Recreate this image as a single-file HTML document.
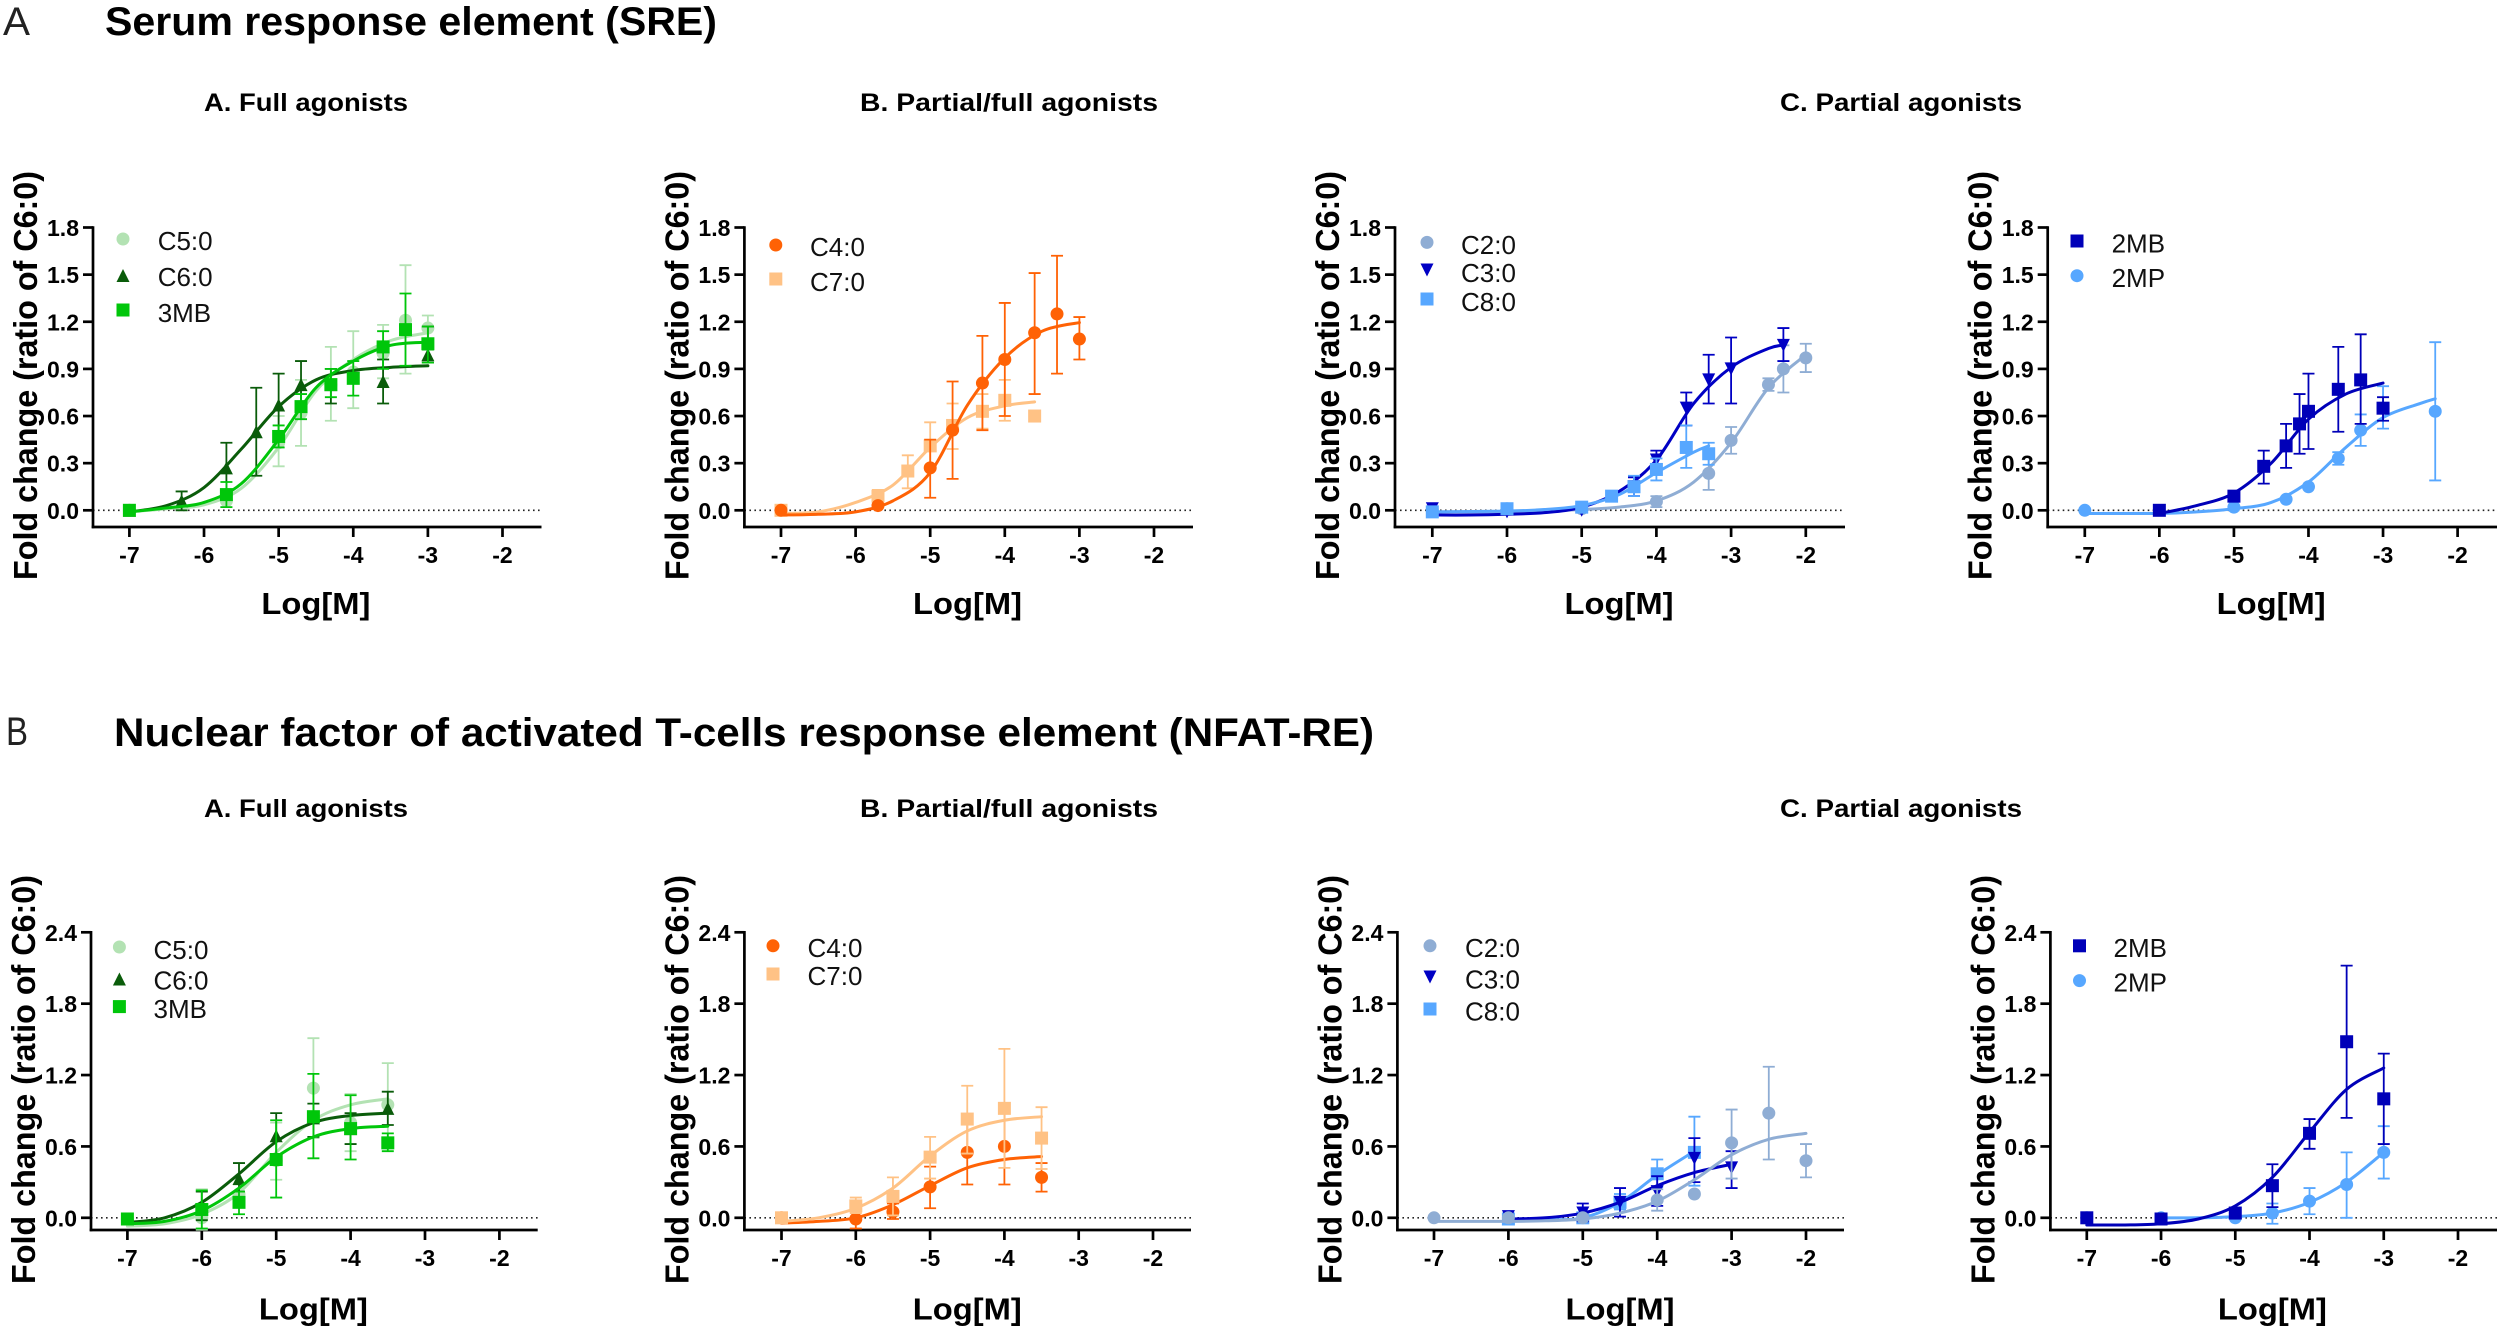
<!DOCTYPE html>
<html lang="en">
<head>
<meta charset="utf-8">
<title>Serum response element and NFAT-RE dose-response curves</title>
<style>
html,body{margin:0;padding:0;background:#fff;}
svg{display:block;}
text{font-family:"Liberation Sans",Arial,sans-serif;fill:#000;}
.main{font-size:40px;font-weight:700;}
.letter{font-size:40px;font-weight:400;fill:#222;}
.sub{font-size:25px;font-weight:700;}
</style>
</head>
<body>
<svg id="figure" xmlns="http://www.w3.org/2000/svg" width="2500" height="1329" viewBox="0 0 2500 1329">
  <rect width="2500" height="1329" fill="#fff"/>
  <text class="letter" x="3" y="35" textLength="27" lengthAdjust="spacingAndGlyphs">A</text>
  <text class="main" x="105" y="35" textLength="612" lengthAdjust="spacingAndGlyphs">Serum response element (SRE)</text>
  <text class="sub" x="204" y="111" textLength="204" lengthAdjust="spacingAndGlyphs">A. Full agonists</text>
  <text class="sub" x="860" y="111" textLength="298" lengthAdjust="spacingAndGlyphs">B. Partial/full agonists</text>
  <text class="sub" x="1780" y="111" textLength="242" lengthAdjust="spacingAndGlyphs">C. Partial agonists</text>
  <text class="letter" x="6" y="745" textLength="22" lengthAdjust="spacingAndGlyphs">B</text>
  <text class="main" x="114" y="746" textLength="1260" lengthAdjust="spacingAndGlyphs">Nuclear factor of activated T-cells response element (NFAT-RE)</text>
  <text class="sub" x="204" y="817" textLength="204" lengthAdjust="spacingAndGlyphs">A. Full agonists</text>
  <text class="sub" x="860" y="817" textLength="298" lengthAdjust="spacingAndGlyphs">B. Partial/full agonists</text>
  <text class="sub" x="1780" y="817" textLength="242" lengthAdjust="spacingAndGlyphs">C. Partial agonists</text>
</svg>
<script>
// ---- tick labels ----
const xTickValues = [-7,-6,-5,-4,-3,-2];
const sreYTicks = [0,0.3,0.6,0.9,1.2,1.5,1.8];
const nfatYTicks = [0,0.6,1.2,1.8,2.4];

// ---- SRE / full agonists ----
const sreC5X = [-7,-5.7,-5,-4.7,-4.3,-4,-3.6,-3.3,-3];
const sreC5Mean = [0,0.06,0.43,0.62,0.80,0.88,1.00,1.21,1.16];
const sreC5Low = [null,0.02,0.28,0.41,0.57,0.65,0.84,0.87,1.02];
const sreC5High = [null,0.11,0.60,0.83,1.04,1.14,1.18,1.56,1.24];
const sreC5CurveX = [-7,-6.5,-6,-5.5,-5,-4.5,-4,-3.5,-3];
const sreC5CurveY = [-0.01,0.01,0.035,0.14,0.40,0.76,0.96,1.08,1.13];

const sreC6X = [-7,-6.3,-5.7,-5.3,-5,-4.7,-4.3,-3.6,-3];
const sreC6Mean = [0,0.06,0.27,0.50,0.67,0.80,0.80,0.82,0.99];
const sreC6Low = [null,0.00,0.11,0.22,0.47,0.65,0.68,0.68,0.94];
const sreC6High = [null,0.12,0.43,0.78,0.87,0.95,0.90,0.96,1.17];
const sreC6CurveX = [-7,-6.5,-6,-5.5,-5,-4.5,-4,-3.5,-3];
const sreC6CurveY = [-0.01,0.03,0.145,0.39,0.66,0.83,0.89,0.91,0.92];

const sre3MBX = [-7,-5.7,-5,-4.7,-4.3,-4,-3.6,-3.3,-3];
const sre3MBMean = [0,0.10,0.47,0.66,0.80,0.84,1.04,1.15,1.06];
const sre3MBLow = [null,0.02,0.40,0.58,0.72,0.73,0.90,0.92,0.94];
const sre3MBHigh = [null,0.18,0.54,0.74,0.90,0.95,1.14,1.38,1.17];
const sre3MBCurveX = [-7,-6.5,-6,-5.5,-5,-4.5,-4,-3.5,-3];
const sre3MBCurveY = [-0.01,0.015,0.05,0.17,0.45,0.78,0.95,1.05,1.07];

// ---- SRE / partial-full agonists ----
const sreC4X = [-7,-5.7,-5,-4.7,-4.3,-4,-3.6,-3.3,-3];
const sreC4Mean = [0,0.03,0.27,0.51,0.81,0.96,1.13,1.25,1.09];
const sreC4Low = [null,null,0.08,0.20,0.51,0.60,0.74,0.87,0.96];
const sreC4High = [null,null,0.45,0.82,1.11,1.32,1.51,1.62,1.23];
const sreC4CurveX = [-7,-6.5,-6,-5.5,-5,-4.5,-4,-3.5,-3];
const sreC4CurveY = [-0.03,-0.025,-0.01,0.06,0.24,0.67,0.97,1.14,1.195];

const sreC7X = [-7,-5.7,-5.3,-5,-4.7,-4.3,-4,-3.6];
const sreC7Mean = [0,0.09,0.25,0.41,0.54,0.63,0.70,0.60];
const sreC7Low = [null,0.04,0.14,0.27,0.39,0.52,0.57,null];
const sreC7High = [null,0.13,0.35,0.56,0.68,0.74,0.83,null];
const sreC7CurveX = [-7,-6.5,-6,-5.5,-5,-4.5,-4,-3.6];
const sreC7CurveY = [-0.02,-0.01,0.05,0.16,0.40,0.59,0.665,0.69];

// ---- SRE / partial agonists, C-series ----
const sreC2X = [-7,-6,-5,-4,-3.3,-3,-2.5,-2.3,-2];
const sreC2Mean = [0,0.01,0.01,0.055,0.235,0.445,0.80,0.90,0.97];
const sreC2Low = [null,null,null,0.02,0.13,0.36,0.76,0.75,0.88];
const sreC2High = [null,null,null,0.09,0.33,0.53,0.84,1.05,1.06];
const sreC2CurveX = [-7,-6,-5.5,-5,-4.5,-4,-3.5,-3,-2.5,-2];
const sreC2CurveY = [-0.01,-0.01,-0.005,0.005,0.02,0.06,0.18,0.43,0.78,0.99];

const sreC3X = [-7,-6,-5,-4.3,-4,-3.6,-3.3,-3,-2.3];
const sreC3Mean = [0.01,-0.01,0,0.15,0.32,0.65,0.83,0.90,1.05];
const sreC3Low = [null,null,null,0.09,0.25,0.54,0.68,0.68,0.95];
const sreC3High = [null,null,null,0.21,0.38,0.75,0.99,1.10,1.16];
const sreC3CurveX = [-7,-6.5,-6,-5.5,-5,-4.5,-4,-3.5,-3,-2.5,-2.3];
const sreC3CurveY = [-0.03,-0.03,-0.025,-0.015,0.02,0.12,0.32,0.68,0.91,1.03,1.05];

const sreC8X = [-7,-6,-5,-4.6,-4.3,-4,-3.6,-3.3];
const sreC8Mean = [-0.01,0.01,0.02,0.09,0.15,0.26,0.40,0.36];
const sreC8Low = [null,null,null,0.06,0.09,0.19,0.27,0.29];
const sreC8High = [null,null,null,0.12,0.22,0.33,0.54,0.43];
const sreC8CurveX = [-7,-6,-5.5,-5,-4.5,-4,-3.5,-3.3];
const sreC8CurveY = [-0.01,-0.005,0.005,0.03,0.10,0.24,0.37,0.41];

// ---- SRE / partial agonists, methyl-branched ----
const sre2MBX = [-6,-5,-4.6,-4.3,-4.12,-4,-3.6,-3.3,-3];
const sre2MBMean = [0,0.09,0.28,0.41,0.55,0.63,0.77,0.83,0.65];
const sre2MBLow = [null,null,0.17,0.27,0.36,0.39,0.50,0.55,0.57];
const sre2MBHigh = [null,null,0.38,0.55,0.74,0.87,1.04,1.12,0.72];
const sre2MBCurveX = [-6,-5.5,-5,-4.5,-4,-3.5,-3];
const sre2MBCurveY = [-0.02,0.03,0.11,0.30,0.58,0.74,0.81];

const sre2MPX = [-7,-5,-4.3,-4,-3.6,-3.3,-3,-2.3];
const sre2MPMean = [0,0.02,0.07,0.15,0.33,0.51,0.65,0.63];
const sre2MPLow = [null,null,null,null,0.29,0.41,0.52,0.19];
const sre2MPHigh = [null,null,null,null,0.37,0.61,0.79,1.07];
const sre2MPCurveX = [-7,-6,-5.5,-5,-4.5,-4,-3.5,-3,-2.5,-2.3];
const sre2MPCurveY = [-0.02,-0.02,-0.01,0.01,0.05,0.18,0.40,0.59,0.68,0.71];

// ---- NFAT / full agonists ----
const nfatC5X = [-7,-6,-5.5,-5,-4.5,-4,-3.5];
const nfatC5Mean = [-0.01,0,0.20,0.48,1.09,0.80,0.95];
const nfatC5Low = [null,-0.10,0.12,0.32,0.67,0.56,0.60];
const nfatC5High = [null,0.24,0.28,0.80,1.51,1.04,1.30];
const nfatC5CurveX = [-7,-6.5,-6,-5.5,-5,-4.5,-4,-3.5];
const nfatC5CurveY = [-0.07,-0.05,0.03,0.21,0.55,0.82,0.95,1.00];

const nfatC6X = [-7,-6,-5.5,-5,-4.5,-4,-3.5];
const nfatC6Mean = [-0.01,0.10,0.33,0.69,0.84,0.75,0.92];
const nfatC6Low = [null,-0.02,0.22,0.48,0.68,0.62,0.78];
const nfatC6High = [null,0.22,0.46,0.88,0.96,0.88,1.06];
const nfatC6CurveX = [-7,-6.5,-6,-5.5,-5,-4.5,-4,-3.5];
const nfatC6CurveY = [-0.04,0.00,0.13,0.37,0.64,0.80,0.86,0.88];

const nfat3MBX = [-7,-6,-5.5,-5,-4.5,-4,-3.5];
const nfat3MBMean = [-0.01,0.07,0.13,0.49,0.85,0.75,0.63];
const nfat3MBLow = [null,-0.09,0.03,0.17,0.50,0.49,0.56];
const nfat3MBHigh = [null,0.23,0.22,0.82,1.21,1.03,0.71];
const nfat3MBCurveX = [-7,-6.5,-6,-5.5,-5,-4.5,-4,-3.5];
const nfat3MBCurveY = [-0.05,-0.03,0.06,0.25,0.51,0.68,0.75,0.77];

// ---- NFAT / partial-full agonists ----
const nfatC4X = [-7,-6,-5.5,-5,-4.5,-4,-3.5];
const nfatC4Mean = [0,-0.01,0.05,0.26,0.55,0.60,0.34];
const nfatC4Low = [null,-0.09,-0.01,0.08,0.28,0.28,0.22];
const nfatC4High = [null,0.06,0.12,0.43,0.82,0.92,0.46];
const nfatC4CurveX = [-7,-6.5,-6,-5.5,-5,-4.5,-4,-3.5];
const nfatC4CurveY = [-0.045,-0.03,0.00,0.11,0.27,0.42,0.49,0.515];

const nfatC7X = [-7,-6,-5.5,-5,-4.5,-4,-3.5];
const nfatC7Mean = [0,0.10,0.18,0.51,0.83,0.92,0.67];
const nfatC7Low = [null,0.04,0.02,0.33,0.54,0.42,0.41];
const nfatC7High = [null,0.17,0.34,0.68,1.11,1.42,0.93];
const nfatC7CurveX = [-7,-6.5,-6,-5.5,-5,-4.5,-4,-3.5];
const nfatC7CurveY = [-0.03,0.00,0.08,0.25,0.52,0.73,0.82,0.85];

// ---- NFAT / partial agonists, C-series ----
const nfatC2X = [-7,-6,-5,-4,-3.5,-3,-2.5,-2];
const nfatC2Mean = [0,0,0,0.15,0.20,0.63,0.88,0.48];
const nfatC2Low = [null,null,null,0.06,null,0.33,0.49,0.34];
const nfatC2High = [null,null,null,0.24,null,0.91,1.27,0.62];
const nfatC2CurveX = [-7,-6.5,-6,-5.5,-5,-4.5,-4,-3.5,-3,-2.5,-2];
const nfatC2CurveY = [-0.03,-0.03,-0.03,-0.025,-0.01,0.04,0.14,0.32,0.53,0.66,0.71];

const nfatC3X = [-6,-5,-4.5,-4,-3.5,-3];
const nfatC3Mean = [0.01,0.04,0.13,0.22,0.50,0.42];
const nfatC3Low = [null,-0.03,0.01,0.10,0.30,0.25];
const nfatC3High = [null,0.12,0.25,0.35,0.67,0.56];
const nfatC3CurveX = [-6,-5.5,-5,-4.5,-4,-3.5,-3];
const nfatC3CurveY = [-0.01,0.00,0.04,0.13,0.27,0.38,0.45];

const nfatC8X = [-6,-5,-4.5,-4,-3.5];
const nfatC8Mean = [-0.01,0,0.13,0.37,0.55];
const nfatC8Low = [null,-0.03,0.07,0.26,0.27];
const nfatC8High = [null,0.03,0.20,0.49,0.85];
const nfatC8CurveX = [-6,-5.5,-5,-4.5,-4,-3.5];
const nfatC8CurveY = [-0.02,-0.015,0.00,0.13,0.36,0.56];

// ---- NFAT / partial agonists, methyl-branched ----
const nfat2MBX = [-7,-6,-5,-4.5,-4,-3.5,-3];
const nfat2MBMean = [0,-0.01,0.04,0.27,0.71,1.48,1.00];
const nfat2MBLow = [null,null,null,0.09,0.58,0.84,0.62];
const nfat2MBHigh = [null,null,null,0.45,0.83,2.12,1.38];
const nfat2MBCurveX = [-7,-6.5,-6,-5.5,-5,-4.5,-4,-3.5,-3];
const nfat2MBCurveY = [-0.06,-0.06,-0.05,-0.01,0.10,0.34,0.72,1.08,1.26];

const nfat2MPX = [-7,-6,-5,-4.5,-4,-3.5,-3];
const nfat2MPMean = [0,0,0,0.04,0.14,0.28,0.55];
const nfat2MPLow = [null,null,null,-0.05,0.03,0,0.33];
const nfat2MPHigh = [null,null,null,0.12,0.25,0.55,0.77];
const nfat2MPCurveX = [-6,-5.5,-5,-4.5,-4,-3.5,-3];
const nfat2MPCurveY = [0,0,0.01,0.04,0.13,0.30,0.55];

// ---- rendering ----
const NS = 'http://www.w3.org/2000/svg';
const svg = document.getElementById('figure');

function mk(tag, attrs, parent) {
  const el = document.createElementNS(NS, tag);
  for (const k in attrs) el.setAttribute(k, attrs[k]);
  parent.appendChild(el);
  return el;
}

function drawMarker(shape, color, cx, cy, size, parent) {
  const h = size / 2;
  let el;
  if (shape === 'circle') {
    el = mk('circle', {cx: cx, cy: cy, r: h, fill: color}, parent);
  } else if (shape === 'square') {
    el = mk('rect', {x: cx - h, y: cy - h, width: size, height: size, fill: color}, parent);
  } else if (shape === 'up') {
    el = mk('polygon', {points: (cx - h) + ',' + (cy + h) + ' ' + (cx + h) + ',' + (cy + h) + ' ' + cx + ',' + (cy - h), fill: color}, parent);
  } else {
    el = mk('polygon', {points: (cx - h) + ',' + (cy - h) + ' ' + (cx + h) + ',' + (cy - h) + ' ' + cx + ',' + (cy + h), fill: color}, parent);
  }
  return el;
}

function smoothPath(pts) {
  let d = 'M' + pts[0][0].toFixed(2) + ' ' + pts[0][1].toFixed(2);
  for (let i = 0; i < pts.length - 1; i++) {
    const p0 = pts[Math.max(i - 1, 0)];
    const p1 = pts[i];
    const p2 = pts[i + 1];
    const p3 = pts[Math.min(i + 2, pts.length - 1)];
    const c1x = p1[0] + (p2[0] - p0[0]) / 6;
    const c1y = p1[1] + (p2[1] - p0[1]) / 6;
    const c2x = p2[0] - (p3[0] - p1[0]) / 6;
    const c2y = p2[1] - (p3[1] - p1[1]) / 6;
    d += 'C' + c1x.toFixed(2) + ' ' + c1y.toFixed(2) + ' ' + c2x.toFixed(2) + ' ' + c2y.toFixed(2) + ' ' + p2[0].toFixed(2) + ' ' + p2[1].toFixed(2);
  }
  return d;
}

function slug(s) {
  return s.toLowerCase().replace(/[^a-z0-9]+/g, '');
}

function drawPanel(p) {
  const g = mk('g', {}, svg);
  
  

  const xScale = function (v) { return p.x7 + (v + 7) * (p.x2 - p.x7) / 5; };
  const yMax = p.ticks[p.ticks.length - 1];
  const yScale = function (v) { return p.y0 - v * (p.y0 - p.yTop) / yMax; };

  // reference line at zero
  const zero = mk('line', {x1: p.ax, x2: p.right, y1: yScale(0), y2: yScale(0), stroke: '#222', 'stroke-width': 1.6, 'stroke-dasharray': '1.6 3.4'}, g);
  
  

  // axes
  const yAxis = mk('line', {x1: p.ax, x2: p.ax, y1: p.yTop - 1.3, y2: p.axisY + 1.3, stroke: '#000', 'stroke-width': 2.7}, g);
  
  
  const xAxis = mk('line', {x1: p.ax - 1.3, x2: p.right, y1: p.axisY, y2: p.axisY, stroke: '#000', 'stroke-width': 2.7}, g);
  
  

  xTickValues.forEach(function (v) {
    const tick = mk('line', {x1: xScale(v), x2: xScale(v), y1: p.axisY, y2: p.axisY + 10, stroke: '#000', 'stroke-width': 2.7}, g);
    
    
    const lab = mk('text', {x: xScale(v), y: p.axisY + 36, 'text-anchor': 'middle', 'font-size': 23, 'font-weight': 700}, g);
    lab.textContent = String(v);
    
    
  });
  p.ticks.forEach(function (v) {
    const tick = mk('line', {x1: p.ax - 10, x2: p.ax, y1: yScale(v), y2: yScale(v), stroke: '#000', 'stroke-width': 2.7}, g);
    
    
    const lab = mk('text', {x: p.ax - 14, y: yScale(v) + 8.5, 'text-anchor': 'end', 'font-size': 23, 'font-weight': 700}, g);
    lab.textContent = v.toFixed(1);
    
    
  });

  // axis titles
  const yT = mk('text', {x: p.ax - 56, y: p.titleBottom, transform: 'rotate(-90 ' + (p.ax - 56) + ' ' + p.titleBottom + ')', 'font-size': 33, 'font-weight': 700, textLength: 409, lengthAdjust: 'spacingAndGlyphs'}, g);
  yT.textContent = 'Fold change (ratio of C6:0)';
  
  
  const xT = mk('text', {x: (p.x7 + p.x2) / 2, y: p.xTitleY, 'text-anchor': 'middle', 'font-size': 31, 'font-weight': 700, textLength: 109, lengthAdjust: 'spacingAndGlyphs'}, g);
  xT.textContent = 'Log[M]';
  
  

  // series
  p.series.forEach(function (s) {
    const sg = mk('g', {}, g);
    
    

    const pts = s.curveX.map(function (v, i) { return [xScale(v), yScale(s.curveY[i])]; });
    const curve = mk('path', {d: smoothPath(pts), fill: 'none', stroke: s.color, 'stroke-width': 3, 'stroke-linecap': 'round'}, sg);
    
    

    s.x.forEach(function (v, i) {
      if (s.low[i] === null || s.high[i] === null) return;
      const cx = xScale(v);
      const yl = yScale(s.low[i]);
      const yh = yScale(s.high[i]);
      const d = 'M' + cx + ' ' + yl + 'V' + yh + 'M' + (cx - 6) + ' ' + yl + 'H' + (cx + 6) + 'M' + (cx - 6) + ' ' + yh + 'H' + (cx + 6);
      const err = mk('path', {d: d, fill: 'none', stroke: s.color, 'stroke-width': 1.8}, sg);
      
      
    });

    s.x.forEach(function (v, i) {
      const m = drawMarker(s.marker, s.color, xScale(v), yScale(s.mean[i]), 13, sg);
      
      
    });
  });

  // legend
  const lg = mk('g', {}, g);
  
  
  p.legendOrder.forEach(function (s, i) {
    const m = drawMarker(s.marker, s.color, p.legendX, p.legendMarkerY[i], 13, lg);
    
    
    const t = mk('text', {x: p.legendTextX, y: p.legendTextY[i], 'font-size': 26, style: 'fill:#111'}, lg);
    t.textContent = s.name;
    
    
  });
}

// series descriptors
const GREEN_LIGHT = '#b3e2b3', GREEN_DARK = '#0a5c0a', GREEN = '#00c60a';
const ORANGE = '#ff6205', ORANGE_LIGHT = '#ffc285';
const SLATE = '#8fadd4', NAVY = '#0000c4', SKY = '#57a7ff', NAVY2 = '#0000b8';

function ser(name, color, marker, x, mean, low, high, curveX, curveY) {
  return {name: name, color: color, marker: marker, x: x, mean: mean, low: low, high: high, curveX: curveX, curveY: curveY};
}

const sC5 = ser('C5:0', GREEN_LIGHT, 'circle', sreC5X, sreC5Mean, sreC5Low, sreC5High, sreC5CurveX, sreC5CurveY);
const sC6 = ser('C6:0', GREEN_DARK, 'up', sreC6X, sreC6Mean, sreC6Low, sreC6High, sreC6CurveX, sreC6CurveY);
const s3MB = ser('3MB', GREEN, 'square', sre3MBX, sre3MBMean, sre3MBLow, sre3MBHigh, sre3MBCurveX, sre3MBCurveY);
const sC4 = ser('C4:0', ORANGE, 'circle', sreC4X, sreC4Mean, sreC4Low, sreC4High, sreC4CurveX, sreC4CurveY);
const sC7 = ser('C7:0', ORANGE_LIGHT, 'square', sreC7X, sreC7Mean, sreC7Low, sreC7High, sreC7CurveX, sreC7CurveY);
const sC2 = ser('C2:0', SLATE, 'circle', sreC2X, sreC2Mean, sreC2Low, sreC2High, sreC2CurveX, sreC2CurveY);
const sC3 = ser('C3:0', NAVY, 'down', sreC3X, sreC3Mean, sreC3Low, sreC3High, sreC3CurveX, sreC3CurveY);
const sC8 = ser('C8:0', SKY, 'square', sreC8X, sreC8Mean, sreC8Low, sreC8High, sreC8CurveX, sreC8CurveY);
const s2MB = ser('2MB', NAVY2, 'square', sre2MBX, sre2MBMean, sre2MBLow, sre2MBHigh, sre2MBCurveX, sre2MBCurveY);
const s2MP = ser('2MP', SKY, 'circle', sre2MPX, sre2MPMean, sre2MPLow, sre2MPHigh, sre2MPCurveX, sre2MPCurveY);

const nC5 = ser('C5:0', GREEN_LIGHT, 'circle', nfatC5X, nfatC5Mean, nfatC5Low, nfatC5High, nfatC5CurveX, nfatC5CurveY);
const nC6 = ser('C6:0', GREEN_DARK, 'up', nfatC6X, nfatC6Mean, nfatC6Low, nfatC6High, nfatC6CurveX, nfatC6CurveY);
const n3MB = ser('3MB', GREEN, 'square', nfat3MBX, nfat3MBMean, nfat3MBLow, nfat3MBHigh, nfat3MBCurveX, nfat3MBCurveY);
const nC4 = ser('C4:0', ORANGE, 'circle', nfatC4X, nfatC4Mean, nfatC4Low, nfatC4High, nfatC4CurveX, nfatC4CurveY);
const nC7 = ser('C7:0', ORANGE_LIGHT, 'square', nfatC7X, nfatC7Mean, nfatC7Low, nfatC7High, nfatC7CurveX, nfatC7CurveY);
const nC2 = ser('C2:0', SLATE, 'circle', nfatC2X, nfatC2Mean, nfatC2Low, nfatC2High, nfatC2CurveX, nfatC2CurveY);
const nC3 = ser('C3:0', NAVY, 'down', nfatC3X, nfatC3Mean, nfatC3Low, nfatC3High, nfatC3CurveX, nfatC3CurveY);
const nC8 = ser('C8:0', SKY, 'square', nfatC8X, nfatC8Mean, nfatC8Low, nfatC8High, nfatC8CurveX, nfatC8CurveY);
const n2MB = ser('2MB', NAVY2, 'square', nfat2MBX, nfat2MBMean, nfat2MBLow, nfat2MBHigh, nfat2MBCurveX, nfat2MBCurveY);
const n2MP = ser('2MP', SKY, 'circle', nfat2MPX, nfat2MPMean, nfat2MPLow, nfat2MPHigh, nfat2MPCurveX, nfat2MPCurveY);

const row1 = {ticks: sreYTicks, y0: 510.3, yTop: 227.5, axisY: 527, titleBottom: 580, xTitleY: 614};
const row2 = {ticks: nfatYTicks, y0: 1217.8, yTop: 932.3, axisY: 1230, titleBottom: 1284, xTitleY: 1319.5};

drawPanel(Object.assign({}, row1, {id: 'sre-full-agonists', ax: 93, x7: 129.4, x2: 502.5, right: 541.5,
  series: [sC5, sC6, s3MB], legendOrder: [sC5, sC6, s3MB],
  legendX: 123, legendMarkerY: [239, 275.5, 310], legendTextX: 157.7, legendTextY: [250, 286, 322]}));
drawPanel(Object.assign({}, row1, {id: 'sre-partial-full-agonists', ax: 744.4, x7: 781, x2: 1154, right: 1193,
  series: [sC7, sC4], legendOrder: [sC4, sC7],
  legendX: 775.8, legendMarkerY: [245, 279], legendTextX: 810, legendTextY: [256, 291]}));
drawPanel(Object.assign({}, row1, {id: 'sre-partial-agonists-c', ax: 1395, x7: 1432.3, x2: 1805.8, right: 1845,
  series: [sC2, sC3, sC8], legendOrder: [sC2, sC3, sC8],
  legendX: 1427, legendMarkerY: [242.4, 270, 299], legendTextX: 1461, legendTextY: [254, 282, 311]}));
drawPanel(Object.assign({}, row1, {id: 'sre-partial-agonists-branched', ax: 2047.7, x7: 2084.8, x2: 2457.6, right: 2497,
  series: [s2MP, s2MB], legendOrder: [s2MB, s2MP],
  legendX: 2077, legendMarkerY: [241, 275.7], legendTextX: 2111.6, legendTextY: [252.4, 286.8]}));

drawPanel(Object.assign({}, row2, {id: 'nfat-full-agonists', ax: 91, x7: 127.4, x2: 499.4, right: 537.7,
  series: [nC5, nC6, n3MB], legendOrder: [nC5, nC6, n3MB],
  legendX: 119.4, legendMarkerY: [947, 979, 1006.6], legendTextX: 153.5, legendTextY: [959, 989.5, 1018]}));
drawPanel(Object.assign({}, row2, {id: 'nfat-partial-full-agonists', ax: 744.4, x7: 781.5, x2: 1153, right: 1191,
  series: [nC4, nC7], legendOrder: [nC4, nC7],
  legendX: 773, legendMarkerY: [945.8, 974], legendTextX: 807.5, legendTextY: [957, 985]}));
drawPanel(Object.assign({}, row2, {id: 'nfat-partial-agonists-c', ax: 1397.4, x7: 1434, x2: 1806, right: 1844,
  series: [nC8, nC3, nC2], legendOrder: [nC2, nC3, nC8],
  legendX: 1430, legendMarkerY: [945.8, 977, 1009], legendTextX: 1465, legendTextY: [957, 988.6, 1020.5]}));
drawPanel(Object.assign({}, row2, {id: 'nfat-partial-agonists-branched', ax: 2050.4, x7: 2086.8, x2: 2458, right: 2497,
  series: [n2MP, n2MB], legendOrder: [n2MB, n2MP],
  legendX: 2079.5, legendMarkerY: [945.8, 980.6], legendTextX: 2113.5, legendTextY: [957, 991.5]}));
</script>
</body>
</html>
